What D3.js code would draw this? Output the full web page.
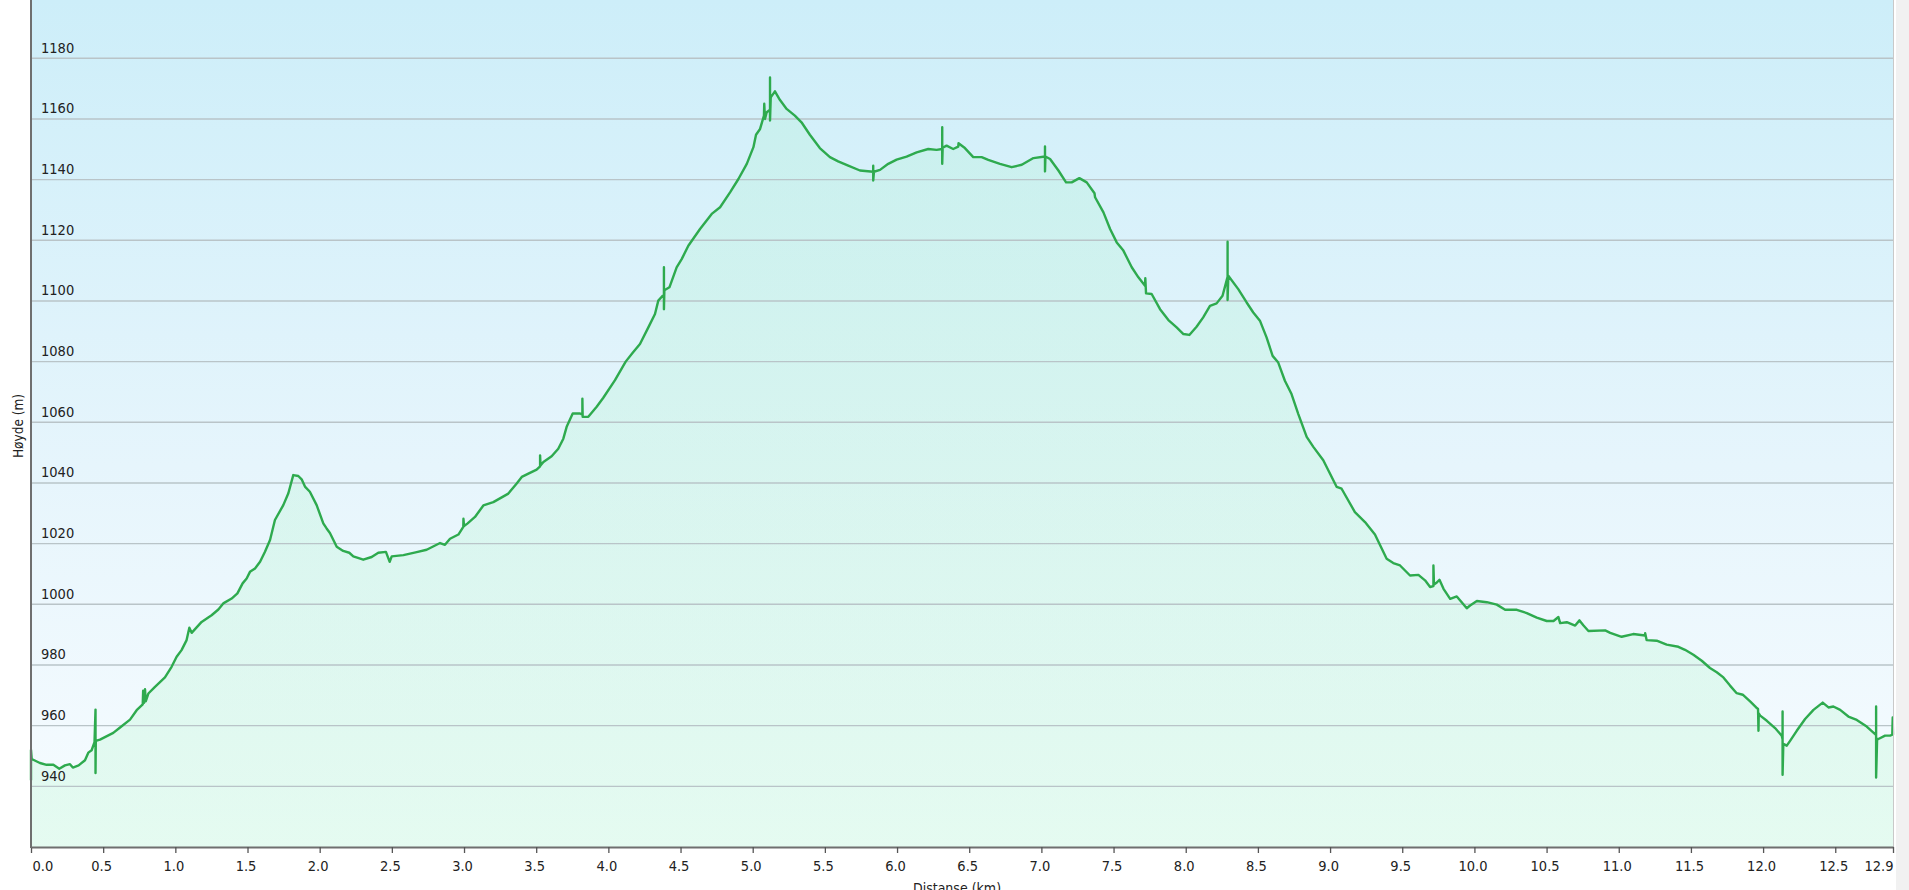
<!DOCTYPE html>
<html>
<head>
<meta charset="utf-8">
<script src="https://cdn.jsdelivr.net/npm/d3@7"></script>
<style>
  html, body { margin: 0; padding: 0; background: #ffffff; overflow: hidden; }
  svg { display: block; }
  .lbl { font-family: "DejaVu Sans Condensed", "DejaVu Sans", sans-serif; font-stretch: condensed; fill: #222; }
</style>
</head>
<body>
<svg id="chart" width="1909" height="890"></svg>
<script>
// ---- data ----
const distanceKm = [
  0.000, 0.000, 0.005, 0.062, 0.108, 0.155, 0.196, 0.235, 0.270, 0.290, 0.330, 0.374, 0.397, 0.420, 0.440,
  0.447, 0.447, 0.449, 0.478, 0.570, 0.617, 0.686, 0.732, 0.774, 0.777, 0.783, 0.790, 0.795, 0.813, 0.859,
  0.928, 0.974, 1.009, 1.043, 1.078, 1.097, 1.113, 1.182, 1.251, 1.298, 1.332, 1.390, 1.430, 1.466, 1.494,
  1.517, 1.552, 1.587, 1.621, 1.656, 1.690, 1.748, 1.783, 1.817, 1.852, 1.875, 1.898, 1.932, 1.979, 2.025,
  2.048, 2.071, 2.118, 2.163, 2.205, 2.233, 2.302, 2.360, 2.406, 2.459, 2.485, 2.499, 2.580, 2.672, 2.741,
  2.834, 2.868, 2.903, 2.961, 2.995, 2.996, 3.000, 3.023, 3.076, 3.134, 3.203, 3.307, 3.365, 3.400, 3.446,
  3.503, 3.527, 3.527, 3.530, 3.550, 3.607, 3.653, 3.688, 3.711, 3.753, 3.804, 3.820, 3.820, 3.822, 3.861,
  3.919, 3.965, 4.046, 4.120, 4.170, 4.219, 4.277, 4.323, 4.346, 4.376, 4.385, 4.385, 4.385, 4.388, 4.423,
  4.473, 4.508, 4.554, 4.635, 4.716, 4.774, 4.843, 4.901, 4.959, 5.005, 5.023, 5.051, 5.078, 5.080, 5.085,
  5.097, 5.120, 5.120, 5.120, 5.125, 5.154, 5.188, 5.235, 5.292, 5.338, 5.396, 5.465, 5.535, 5.592, 5.662,
  5.743, 5.835, 5.835, 5.835, 5.840, 5.882, 5.939, 5.997, 6.066, 6.136, 6.216, 6.274, 6.313, 6.313, 6.313,
  6.316, 6.343, 6.389, 6.424, 6.426, 6.470, 6.528, 6.586, 6.632, 6.713, 6.794, 6.864, 6.945, 7.025, 7.025,
  7.025, 7.028, 7.060, 7.118, 7.171, 7.210, 7.263, 7.314, 7.368, 7.372, 7.430, 7.476, 7.522, 7.568, 7.626,
  7.672, 7.718, 7.720, 7.725, 7.764, 7.822, 7.880, 7.937, 7.984, 8.025, 8.075, 8.121, 8.168, 8.214, 8.255,
  8.283, 8.290, 8.290, 8.290, 8.295, 8.364, 8.422, 8.468, 8.514, 8.560, 8.602, 8.641, 8.687, 8.733, 8.780,
  8.838, 8.884, 8.953, 9.046, 9.080, 9.172, 9.242, 9.311, 9.392, 9.438, 9.485, 9.554, 9.612, 9.658, 9.693,
  9.716, 9.716, 9.720, 9.735, 9.758, 9.786, 9.832, 9.878, 9.947, 9.970, 10.017, 10.086, 10.155, 10.213, 10.294,
  10.363, 10.432, 10.501, 10.548, 10.582, 10.594, 10.640, 10.698, 10.728, 10.756, 10.790, 10.906, 10.941, 11.020, 11.100,
  11.182, 11.183, 11.193, 11.263, 11.332, 11.413, 11.459, 11.517, 11.575, 11.632, 11.679, 11.725, 11.771, 11.817, 11.859,
  11.910, 11.952, 11.965, 11.968, 11.970, 11.980, 12.026, 12.083, 12.129, 12.135, 12.135, 12.135, 12.140, 12.164, 12.187,
  12.233, 12.291, 12.349, 12.413, 12.453, 12.487, 12.534, 12.591, 12.649, 12.718, 12.776, 12.783, 12.783, 12.783, 12.790,
  12.799, 12.845, 12.880, 12.895, 12.898, 12.900
];
const elevationM = [
  942.0, 952.0, 949.0, 947.7, 947.1, 947.1, 945.8, 946.9, 947.3, 946.2, 946.9, 948.6, 951.1, 951.9, 954.6,
  965.3, 944.4, 955.0, 955.4, 957.6, 959.4, 962.0, 965.1, 967.0, 971.5, 967.5, 972.0, 968.0, 970.6, 972.8,
  975.9, 979.4, 982.7, 984.9, 988.2, 992.3, 990.6, 994.2, 996.4, 998.3, 1000.3, 1001.9, 1003.6, 1006.9, 1008.5,
  1010.7, 1011.8, 1014.0, 1017.3, 1021.2, 1027.8, 1032.7, 1036.6, 1042.6, 1042.3, 1041.2, 1038.8, 1037.1, 1032.7, 1026.7,
  1025.0, 1023.5, 1019.0, 1017.6, 1017.0, 1015.8, 1014.7, 1015.6, 1017.0, 1017.3, 1014.0, 1015.8, 1016.2, 1017.2, 1018.0,
  1020.2, 1019.6, 1021.6, 1023.0, 1025.5, 1028.2, 1025.8, 1026.6, 1028.8, 1032.6, 1033.7, 1036.5, 1039.8, 1042.0, 1043.1,
  1044.4, 1045.5, 1049.1, 1045.8, 1046.9, 1048.8, 1051.3, 1054.6, 1058.5, 1062.9, 1062.9, 1062.5, 1067.8, 1061.8, 1061.8,
  1065.1, 1068.1, 1073.9, 1080.0, 1083.0, 1085.8, 1091.3, 1095.7, 1100.1, 1101.7, 1102.0, 1111.1, 1097.3, 1103.5, 1104.5,
  1111.1, 1113.8, 1118.2, 1123.7, 1128.7, 1130.9, 1135.8, 1140.2, 1145.2, 1150.7, 1154.8, 1156.7, 1161.1, 1165.0, 1160.0,
  1162.2, 1163.0, 1173.7, 1159.5, 1167.1, 1169.1, 1166.3, 1163.3, 1161.1, 1158.9, 1154.8, 1150.4, 1147.4, 1146.0, 1144.6,
  1143.0, 1142.6, 1144.6, 1139.7, 1142.6, 1143.2, 1145.2, 1146.6, 1147.6, 1149.0, 1150.1, 1149.8, 1150.1, 1157.3, 1145.2,
  1150.5, 1151.2, 1150.1, 1150.9, 1152.0, 1150.4, 1147.4, 1147.4, 1146.5, 1145.2, 1144.1, 1144.9, 1147.1, 1147.6, 1150.9,
  1142.7, 1147.6, 1146.8, 1143.0, 1139.1, 1139.1, 1140.5, 1139.1, 1135.5, 1134.2, 1129.2, 1123.7, 1119.3, 1116.6, 1111.1,
  1107.8, 1105.0, 1107.5, 1102.5, 1102.3, 1097.3, 1093.7, 1091.3, 1089.1, 1088.8, 1091.5, 1094.6, 1098.4, 1099.2, 1101.7,
  1106.7, 1108.0, 1119.5, 1100.3, 1108.3, 1103.9, 1099.5, 1096.2, 1093.5, 1088.0, 1081.9, 1079.7, 1073.7, 1069.3, 1062.7,
  1055.2, 1051.9, 1047.5, 1038.7, 1038.1, 1030.4, 1027.1, 1023.0, 1015.0, 1013.6, 1012.8, 1009.5, 1009.7, 1007.9, 1005.7,
  1006.0, 1012.8, 1006.5, 1007.0, 1008.1, 1005.1, 1001.8, 1002.6, 998.7, 999.6, 1001.1, 1000.7, 999.9, 998.2, 998.2,
  997.1, 995.6, 994.5, 994.5, 995.8, 993.8, 994.1, 993.0, 994.7, 993.0, 991.2, 991.4, 990.6, 989.3, 990.2,
  989.7, 990.5, 988.2, 988.0, 986.7, 986.0, 985.0, 983.4, 981.4, 979.0, 977.6, 975.9, 973.2, 970.7, 970.2,
  968.0, 966.0, 965.5, 958.3, 964.0, 963.3, 961.6, 959.2, 956.7, 955.5, 964.7, 943.8, 954.0, 953.4, 955.0,
  958.3, 962.2, 965.2, 967.6, 966.0, 966.3, 965.2, 963.0, 961.9, 959.7, 957.2, 957.0, 966.3, 942.9, 955.6,
  955.6, 956.7, 956.7, 957.0, 962.7, 957.0
];
const xTickValues = [0, 0.5, 1, 1.5, 2, 2.5, 3, 3.5, 4, 4.5, 5, 5.5, 6, 6.5, 7, 7.5, 8, 8.5, 9, 9.5, 10, 10.5, 11, 11.5, 12, 12.5, 12.9];
const yTickValues = [940, 960, 980, 1000, 1020, 1040, 1060, 1080, 1100, 1120, 1140, 1160, 1180];
const xTitle = "Distanse  (km)";
const yTitle = "Høyde (m)";

// ---- drawing ----
(function () {
const svg = d3.select("#chart");
const plotL = 31, plotR = 1893, plotB = 847, plotT = -2.4;
const x = d3.scaleLinear().domain([0, 12.9]).range([plotL, plotR]);
const y = d3.scaleLinear().domain([920, 1200]).range([plotB, plotT]);
const points = distanceKm.map((d, i) => [d, elevationM[i]]);

const defs = svg.append("defs");
const bg = defs.append("linearGradient").attr("id", "bg").attr("x1", 0).attr("y1", 0).attr("x2", 0).attr("y2", 1);
bg.append("stop").attr("offset", "0%").attr("stop-color", "#cdeef9");
bg.append("stop").attr("offset", "55%").attr("stop-color", "#e6f5fc");
bg.append("stop").attr("offset", "100%").attr("stop-color", "#f7fcff");
const ar = defs.append("linearGradient").attr("id", "ar").attr("x1", 0).attr("y1", 0).attr("x2", 0).attr("y2", 1);
ar.append("stop").attr("offset", "0%").attr("stop-color", "rgb(170,240,205)").attr("stop-opacity", 0.24);
ar.append("stop").attr("offset", "100%").attr("stop-color", "rgb(190,248,210)").attr("stop-opacity", 0.32);

svg.append("rect").attr("x", plotL).attr("y", 0).attr("width", plotR - plotL).attr("height", plotB)
  .attr("fill", "url(#bg)");
svg.append("rect").attr("x", plotR + 3).attr("y", 0).attr("width", 1909 - plotR - 3).attr("height", 890)
  .attr("fill", "#f1f1f1");

// area
svg.append("path").datum(points)
  .attr("fill", "url(#ar)")
  .attr("d", d3.area().x(d => x(d[0])).y0(plotB).y1(d => y(d[1])));

// gridlines
svg.append("g").selectAll("line").data(yTickValues).join("line")
  .attr("x1", plotL).attr("x2", plotR)
  .attr("y1", d => y(d)).attr("y2", d => y(d))
  .attr("stroke", "#b9c4c8").attr("stroke-width", 1.4);

// y labels inside plot
svg.append("g").selectAll("text").data(yTickValues).join("text")
  .attr("class", "lbl")
  .attr("x", 41).attr("y", d => y(d) - 5.5)
  .attr("font-size", 14.5)
  .text(d => d);

// line
svg.append("path").datum(points)
  .attr("fill", "none").attr("stroke", "#2eaa4e").attr("stroke-width", 2.4)
  .attr("stroke-linejoin", "round")
  .attr("d", d3.line().x(d => x(d[0])).y(d => y(d[1])));

// right border of plot
svg.append("line").attr("x1", plotR + 0.5).attr("x2", plotR + 0.5).attr("y1", 0).attr("y2", plotB)
  .attr("stroke", "#c9c9c9").attr("stroke-width", 1);

// x axis
const xAxis = d3.axisBottom(x).tickValues(xTickValues).tickSizeInner(6).tickSizeOuter(0)
  .tickFormat(d => d.toFixed(1));
const gx = svg.append("g").attr("transform", `translate(0,${plotB})`).call(xAxis);
gx.select(".domain").attr("stroke", "#6f6f6f").attr("stroke-width", 2);
gx.selectAll(".tick line").attr("stroke", "#555").attr("stroke-width", 1.3);
gx.selectAll(".tick text")
  .attr("class", "lbl").attr("font-size", 14.5).attr("fill", "#222")
  .attr("y", 23.5).attr("dy", 0)
  .attr("text-anchor", d => d === 0 ? "start" : (d === 12.9 ? "end" : "middle"))
  .attr("dx", d => d === 0 ? 1 : (d === 12.9 ? 0 : -2));
gx.attr("font-family", null).attr("font-size", null);

// y axis line
svg.append("line").attr("x1", plotL).attr("x2", plotL).attr("y1", 0).attr("y2", plotB + 1)
  .attr("stroke", "#6f6f6f").attr("stroke-width", 2);

// titles
svg.append("text").attr("class", "lbl").attr("font-size", 13.5)
  .attr("text-anchor", "middle")
  .attr("transform", `translate(23,426) rotate(-90)`)
  .text(yTitle);
svg.append("text").attr("class", "lbl").attr("font-size", 14)
  .attr("text-anchor", "middle").attr("x", 957).attr("y", 893)
  .text(xTitle);
})();
</script>
</body>
</html>
